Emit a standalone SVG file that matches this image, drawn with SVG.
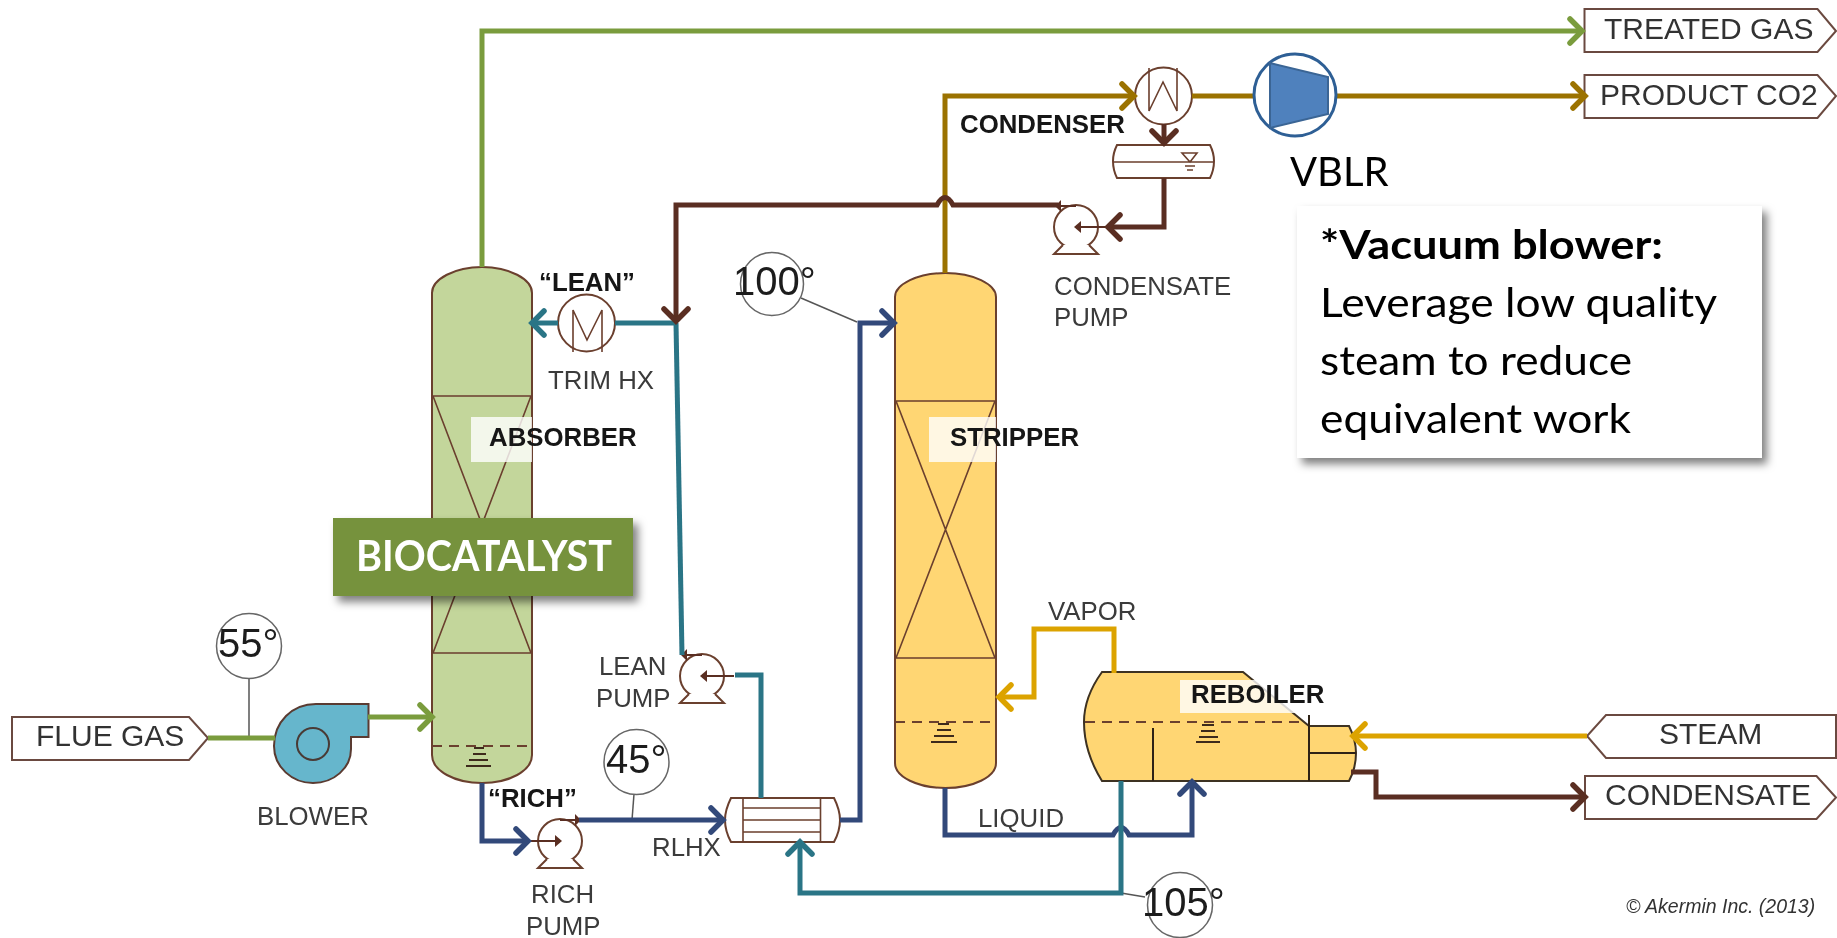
<svg xmlns="http://www.w3.org/2000/svg" xmlns:xlink="http://www.w3.org/1999/xlink" width="1837" height="938" viewBox="0 0 1837 938">
<style>
text{font-family:"Liberation Sans",Arial,sans-serif}
.lb{font-size:25.8px;fill:#3a3a3a}
.bd{font-size:25.8px;font-weight:700;fill:#141414}
.tg{font-size:30px;fill:#333}
.tp{font-size:40px;fill:#1e1e1e}
.ca{font-family:Lato,"Open Sans",sans-serif}
.eq{stroke:#6b3f2e;stroke-width:1.6;fill:none}
.tag{fill:#fff;stroke:#6b4a40;stroke-width:2}
.dial{fill:#fff;stroke:#666;stroke-width:1.5}
.thin{stroke:#555;stroke-width:1.5;fill:none}
.dash{stroke:#6b3f2e;stroke-width:2;stroke-dasharray:10 7;fill:none}
.lvl{stroke:#3d2a1e;stroke-width:2;fill:none}
.pipe{fill:none;stroke-width:5}
.green{stroke:#7a9c3e}
.navy{stroke:#33497a}
.teal{stroke:#2c7486}
.brown{stroke:#5a2e20}
.gold{stroke:#dca300}
.dgold{stroke:#9b7200}
.soft{filter:url(#soft)}
</style>
<defs>
<filter id="soft" x="-5%" y="-5%" width="110%" height="110%"><feGaussianBlur stdDeviation="0.55"/></filter>
<filter id="shadow" x="-10%" y="-15%" width="125%" height="135%"><feDropShadow dx="5" dy="6" stdDeviation="4" flood-color="#000" flood-opacity="0.5"/></filter>
<marker id="ag" markerUnits="userSpaceOnUse" markerWidth="40" markerHeight="40" refX="20" refY="20" orient="auto" overflow="visible"><path d="M7,8 L19,20 L7,32" fill="none" stroke="#7a9c3e" stroke-width="5.5" stroke-linecap="round"/></marker>
<marker id="an" markerUnits="userSpaceOnUse" markerWidth="40" markerHeight="40" refX="20" refY="20" orient="auto" overflow="visible"><path d="M7,8 L19,20 L7,32" fill="none" stroke="#33497a" stroke-width="5.5" stroke-linecap="round"/></marker>
<marker id="at" markerUnits="userSpaceOnUse" markerWidth="40" markerHeight="40" refX="20" refY="20" orient="auto" overflow="visible"><path d="M7,8 L19,20 L7,32" fill="none" stroke="#2c7486" stroke-width="5.5" stroke-linecap="round"/></marker>
<marker id="ab" markerUnits="userSpaceOnUse" markerWidth="40" markerHeight="40" refX="20" refY="20" orient="auto" overflow="visible"><path d="M7,8 L19,20 L7,32" fill="none" stroke="#5a2e20" stroke-width="5.5" stroke-linecap="round"/></marker>
<marker id="ay" markerUnits="userSpaceOnUse" markerWidth="40" markerHeight="40" refX="20" refY="20" orient="auto" overflow="visible"><path d="M7,8 L19,20 L7,32" fill="none" stroke="#dca300" stroke-width="5.5" stroke-linecap="round"/></marker>
<marker id="ad" markerUnits="userSpaceOnUse" markerWidth="40" markerHeight="40" refX="20" refY="20" orient="auto" overflow="visible"><path d="M7,8 L19,20 L7,32" fill="none" stroke="#9b7200" stroke-width="5.5" stroke-linecap="round"/></marker>
<g id="pump">
<circle r="22" fill="#fff" stroke="#6b3f2e" stroke-width="2"/>
<path d="M-13,18 L-22,27 H22 L13,18" fill="#fff" stroke="#6b3f2e" stroke-width="2"/>
<path d="M-32,0 H-3" stroke="#5a2e20" stroke-width="2" fill="none"/>
<path d="M-5,-6 L2,0 L-5,6 Z" fill="#5a2e20"/>
<path d="M0,-21 H16" stroke="#5a2e20" stroke-width="2" fill="none"/>
<path d="M15,-27 L21,-21 L15,-15 Z" fill="#5a2e20"/>
</g>
</defs>
<rect width="1837" height="938" fill="#fff"/>

<g class="soft">
<g id="absorber">
<path d="M432,293 C432,279 455,267 482,267 C509,267 532,279 532,293 V755 C532,771 509,783 482,783 C455,783 432,771 432,755 Z" fill="#c3d69b" stroke="#6b3f2e" stroke-width="2"/>
<path class="eq" d="M432,396 H532 M432,653 H532 M433,396 L531,653 M531,396 L433,653"/>
<path class="dash" d="M432,746 H532"/>
<path class="lvl" d="M474,748 H484 M473,754 H486 M469,760 H488 M466,766 H491"/>
<rect x="471" y="417" width="61" height="45" fill="#fff" opacity="0.8"/>
<text class="bd" x="489" y="446">ABSORBER</text>
</g>
<g id="stripper">
<path d="M895,297 C895,284 918,273 945.500,273 C973,273 996,284 996,297 V763 C996,777 973,788 945.500,788 C918,788 895,777 895,763 Z" fill="#ffd673" stroke="#6b3f2e" stroke-width="2"/>
<path class="eq" d="M895,401 H996 M895,658 H996 M896,401 L995,658 M995,401 L896,658"/>
<path class="dash" d="M895,722 H990"/>
<path class="lvl" d="M938,724 H949 M937,730 H951 M934,736 H954 M931,742 H957"/>
<rect x="929" y="417" width="67" height="45" fill="#fff" opacity="0.8"/>
<text class="bd" x="950" y="446">STRIPPER</text>
</g>
<g id="reboiler">
<path d="M1102,672 H1243 L1309,726 H1349 Q1356,740 1356,753 Q1356,768 1349,781 H1102 Q1084,752 1084,722 Q1084,697 1102,672 Z" fill="#ffd673" stroke="#3d3020" stroke-width="2"/>
<path d="M1309,715 V781 M1309,753 H1356 M1153,728 V781" stroke="#2d2416" stroke-width="2" fill="none"/>
<path class="dash" d="M1085,722 H1305"/>
<path class="lvl" d="M1202,725 H1214 M1201,731 H1215 M1199,737 H1218 M1196,742 H1220"/>
<rect x="1180" y="680" width="129" height="33" fill="#fff" opacity="0.8"/>
<text class="bd" x="1191" y="703">REBOILER</text>
</g>
<g id="blower">
<path d="M368.500,704 H316 C292,704 274,722 274,746 C274,767 292,783 313,783 C334,783 351,768 351,749 V737 H368.500 Z" fill="#66b6cc" stroke="#5a3a30" stroke-width="2"/>
<circle cx="313" cy="744" r="16" fill="none" stroke="#4a3a35" stroke-width="2"/>
<text class="lb" x="257" y="825">BLOWER</text>
</g>
<g id="rich-pump"><use href="#pump" transform="translate(560,841)"/>
<text class="lb" x="531" y="903">RICH</text><text class="lb" x="526" y="935">PUMP</text></g>
<g id="lean-pump"><use href="#pump" transform="translate(702,676) scale(-1,1)"/>
<text class="lb" x="599" y="675">LEAN</text><text class="lb" x="596" y="707">PUMP</text></g>
<g id="condensate-pump"><use href="#pump" transform="translate(1076,227) scale(-1,1)"/>
<text class="lb" x="1054" y="295">CONDENSATE</text><text class="lb" x="1054" y="326">PUMP</text></g>
<g id="trim-hx">
<circle cx="586.500" cy="323" r="28.500" fill="#fff" stroke="#6b3f2e" stroke-width="2"/>
<path class="eq" d="M573,352 V310 L587,340 L602,310 V352"/>
<text class="bd" x="539" y="291">“LEAN”</text>
<text class="lb" x="548" y="389">TRIM HX</text>
</g>
<g id="rlhx">
<path d="M731,798 H834 Q840,810 840,820 Q840,831 834,842 H731 Q725,831 725,820 Q725,810 731,798 Z" fill="#fff" stroke="#6b3f2e" stroke-width="2"/>
<path class="eq" d="M743,798 V842 M820.500,798 V842 M743,808 H820.500 M743,820 H820.500 M743,832 H820.500"/>
<text class="lb" x="652" y="856">RLHX</text>
</g>
<g id="condenser">
<circle cx="1163.500" cy="96" r="28.500" fill="#fff" stroke="#6b3f2e" stroke-width="2"/>
<path class="eq" d="M1149,68 V111 L1163,82 L1177,111 V68"/>
<text class="bd" x="960" y="133">CONDENSER</text>
</g>
<g id="drum">
<path d="M1117,145 H1210 Q1214,153 1214,161 Q1214,170 1210,178 H1117 Q1113,170 1113,161 Q1113,153 1117,145 Z" fill="#fff" stroke="#6b3f2e" stroke-width="2"/>
<path class="eq" d="M1113,162 H1214 M1182,153 H1197 L1190,162 Z"/>
<path d="M1185,166 H1195 M1187,170 H1193" stroke="#6b3f2e" stroke-width="1.500"/>
</g>
<g id="flue-gas"><path class="tag" d="M12,717 H189 L208,738 L189,760 H12 Z"/><text class="tg" x="36" y="746">FLUE GAS</text></g>
<g id="treated-gas"><path class="tag" d="M1584.500,9 H1817.500 L1836,31 L1817.500,52 H1584.500 Z"/><text class="tg" x="1604" y="39">TREATED GAS</text></g>
<g id="product-co2"><path class="tag" d="M1584.500,75 H1817.500 L1836,96 L1817.500,118 H1584.500 Z"/><text class="tg" x="1600" y="105">PRODUCT CO2</text></g>
<g id="steam"><path class="tag" d="M1836,715 H1606 L1587,736 L1606,758 H1836 Z"/><text class="tg" x="1659" y="744">STEAM</text></g>
<g id="condensate"><path class="tag" d="M1585,776 H1816.500 L1836,797.500 L1816.500,819 H1585 Z"/><text class="tg" x="1605" y="805">CONDENSATE</text></g>
<g id="dial-55"><path class="thin" d="M249,678 V738"/><circle class="dial" cx="249" cy="646" r="32.500"/><text class="tp" x="218" y="657">55°</text></g>
<g id="dial-45"><path class="thin" d="M634,794 L632,820"/><circle class="dial" cx="636.500" cy="762" r="32.500"/><text class="tp" x="606" y="773">45°</text></g>
<g id="dial-100"><path class="thin" d="M801,298 L857,322"/><circle class="dial" cx="772" cy="284" r="31.500"/><text class="tp" x="733" y="295">100°</text></g>
<g id="dial-105"><path class="thin" d="M1121,893 L1145,897"/><circle class="dial" cx="1180" cy="905" r="32.500"/><text class="tp" x="1142" y="916">105°</text></g>
<g id="connectors">
<path class="pipe green" marker-end="url(#ag)" d="M482,267 V31 H1583"/>
<path class="pipe green" d="M208,738 H275"/>
<path class="pipe green" marker-end="url(#ag)" d="M368,717 H433"/>
<path class="pipe navy" marker-end="url(#an)" d="M482,783 V841 H529"/>
<path class="pipe navy" marker-end="url(#an)" d="M579,820 H724"/>
<path class="pipe navy" marker-end="url(#an)" d="M840,820 H860 V323 H895"/>
<path class="pipe navy" marker-end="url(#an)" d="M945,788 V835 H1113 Q1121,820 1129,835 H1192 V781"/>
<path class="pipe teal" marker-end="url(#at)" d="M1121,781 V893 H800 V841"/>
<path class="pipe teal" d="M761,798 V675 H735"/>
<path class="pipe teal" d="M682,655 L676,323"/>
<path class="pipe teal" d="M676,323 H615"/>
<path class="pipe teal" marker-end="url(#at)" d="M558,323 H531"/>
<path class="pipe dgold" marker-end="url(#ad)" d="M945,273 V96 H1135"/>
<path class="pipe dgold" d="M1192,96 H1254"/>
<path class="pipe dgold" marker-end="url(#ad)" d="M1336,96 H1586"/>
<path class="pipe brown" marker-end="url(#ab)" d="M1058,205 H953 Q945,190 937,205 H676 V322"/>
<path class="pipe brown" marker-end="url(#ab)" d="M1164,124 V144"/>
<path class="pipe brown" marker-end="url(#ab)" d="M1164,178 V227 H1107"/>
<path class="pipe brown" marker-end="url(#ab)" d="M1351,772 H1376 V797 H1586"/>
<path class="pipe gold" marker-end="url(#ay)" d="M1114,673 V629 H1034 V697 H998"/>
<path class="pipe gold" marker-end="url(#ay)" d="M1587,736 H1352"/>
</g>
<g id="vblr">
<circle cx="1295" cy="95" r="41" fill="#fff" stroke="#2e5f95" stroke-width="3"/>
<path d="M1270,63 L1328,77 V114 L1270,128 Z" fill="#4f81bd" stroke="#3a6595" stroke-width="2"/>
</g>
<text class="lb" x="978" y="827">LIQUID</text>
<text class="lb" x="1048" y="620">VAPOR</text>
<text class="bd" x="488" y="807">“RICH”</text>
<text x="1626" y="913" font-size="19.500" font-style="italic" fill="#333">© Akermin Inc. (2013)</text>
</g>

<text class="ca" x="1290" y="186" font-size="40" fill="#000">VBLR</text>
<g id="note">
<rect x="1297" y="206" width="465" height="252" fill="#fff" filter="url(#shadow)"/>
<text class="ca" x="1320" y="259" font-size="40" font-weight="700" fill="#000" textLength="343" lengthAdjust="spacingAndGlyphs">*Vacuum blower:</text>
<text class="ca" x="1320" y="317" font-size="40" fill="#000" textLength="397" lengthAdjust="spacingAndGlyphs">Leverage low quality</text>
<text class="ca" x="1320" y="375" font-size="40" fill="#000" textLength="312" lengthAdjust="spacingAndGlyphs">steam to reduce</text>
<text class="ca" x="1320" y="433" font-size="40" fill="#000" textLength="311" lengthAdjust="spacingAndGlyphs">equivalent work</text>
</g>
<g id="biocatalyst">
<rect x="333" y="518" width="300" height="78" fill="#76923c" filter="url(#shadow)"/>
<text class="ca" x="356" y="571" font-size="42" font-weight="700" fill="#fff" textLength="256" lengthAdjust="spacingAndGlyphs">BIOCATALYST</text>
</g>
</svg>
